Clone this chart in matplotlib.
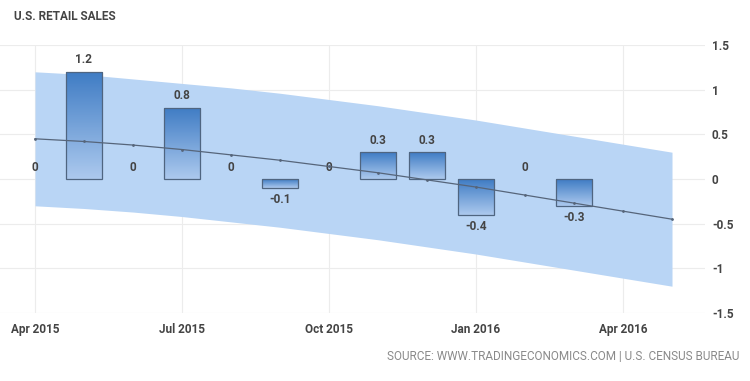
import numpy as np
import matplotlib
matplotlib.use("Agg")
import matplotlib.pyplot as plt
from matplotlib.colors import LinearSegmentedColormap

# months counted from Apr 2015
months = np.arange(12)
sales = [0, 1.2, 0, 0.8, 0, -0.1, 0, 0.3, 0.3, -0.4, 0, -0.3]

# forecast trend with its band, Apr 2015 .. May 2016
fc_months = np.arange(14)
trend = [0.45, 0.42, 0.38, 0.33, 0.27, 0.21, 0.14, 0.07, -0.01, -0.09, -0.18, -0.27, -0.36, -0.45]
band_hi = [1.2, 1.17, 1.12, 1.07, 1.02, 0.96, 0.89, 0.82, 0.74, 0.66, 0.57, 0.48, 0.39, 0.3]
band_lo = [-0.3, -0.33, -0.37, -0.42, -0.48, -0.54, -0.61, -0.68, -0.76, -0.84, -0.93, -1.02, -1.11, -1.2]

tick_pos = [0, 3, 6, 9, 12]
tick_lab = ['Apr 2015', 'Jul 2015', 'Oct 2015', 'Jan 2016', 'Apr 2016']
yticks = [1.5, 1, 0.5, 0, -0.5, -1, -1.5]

plt.rcParams['font.family'] = ['Roboto', 'DejaVu Sans']
txt = '#444444'
fig = plt.figure(figsize=(7.5, 3.81), dpi=100)
ax = fig.add_axes([0, 1 - 313/381, 705/750, (313 - 45)/381])

ax.fill_between(fc_months, band_lo, band_hi, color='#b9d5f5', lw=0, zorder=1)
ax.plot(fc_months, trend, color='#56657a', lw=0.9, marker='.', ms=2, zorder=4)

bw = 0.74
bars = ax.bar(months, sales, width=bw, facecolor='none',
              edgecolor=['none' if v == 0 else '#4f6580' for v in sales], lw=0.9, zorder=3)

cmap = LinearSegmentedColormap.from_list('g', ['#acc9ee', '#3f7cc4'])
grad = np.linspace(0, 1, 100).reshape(-1, 1)
for b, v in zip(bars, sales):
    if v == 0:
        continue
    x0 = b.get_x()
    lo, hi = min(0, v), max(0, v)
    im = ax.imshow(grad, cmap=cmap, aspect='auto', origin='lower',
                   extent=[x0, x0 + bw, lo, hi], zorder=2)
    im.set_clip_path(b)

for m, v in zip(months, sales):
    off = -8.6 if v < 0 else 8.6
    ax.annotate('%g' % v, (m, v), xytext=(0, off), textcoords='offset points',
                ha='center', va='center', fontsize=8.5, color=txt, fontweight='bold')

ax.set_xlim(-35/49, 670/49)
ax.set_ylim(-1.5, 1.5)
ax.set_xticks(tick_pos)
ax.set_xticklabels(tick_lab)
ax.set_yticks(yticks)
ax.set_yticklabels(['%g' % t for t in yticks])
ax.yaxis.tick_right()
ax.tick_params(axis='both', length=0, labelsize=8.5, labelcolor=txt)
ax.tick_params(axis='x', pad=7)
ax.tick_params(axis='y', pad=5)
for lab in ax.get_xticklabels() + ax.get_yticklabels():
    lab.set_fontweight('bold')
ax.grid(True, color='#ececec', lw=0.8)
ax.set_axisbelow(True)
for s in ax.spines.values():
    s.set_visible(False)

fig.text(14/750, 1 - 17/381, 'U.S. RETAIL SALES', fontsize=8.5, fontweight='bold',
         color=txt, va='center', ha='left')
fig.text(739/750, 1 - 357/381, 'SOURCE: WWW.TRADINGECONOMICS.COM | U.S. CENSUS BUREAU',
         fontsize=8.5, color='#8a8a8a', va='center', ha='right')

fig.savefig('out.png', dpi=100)
